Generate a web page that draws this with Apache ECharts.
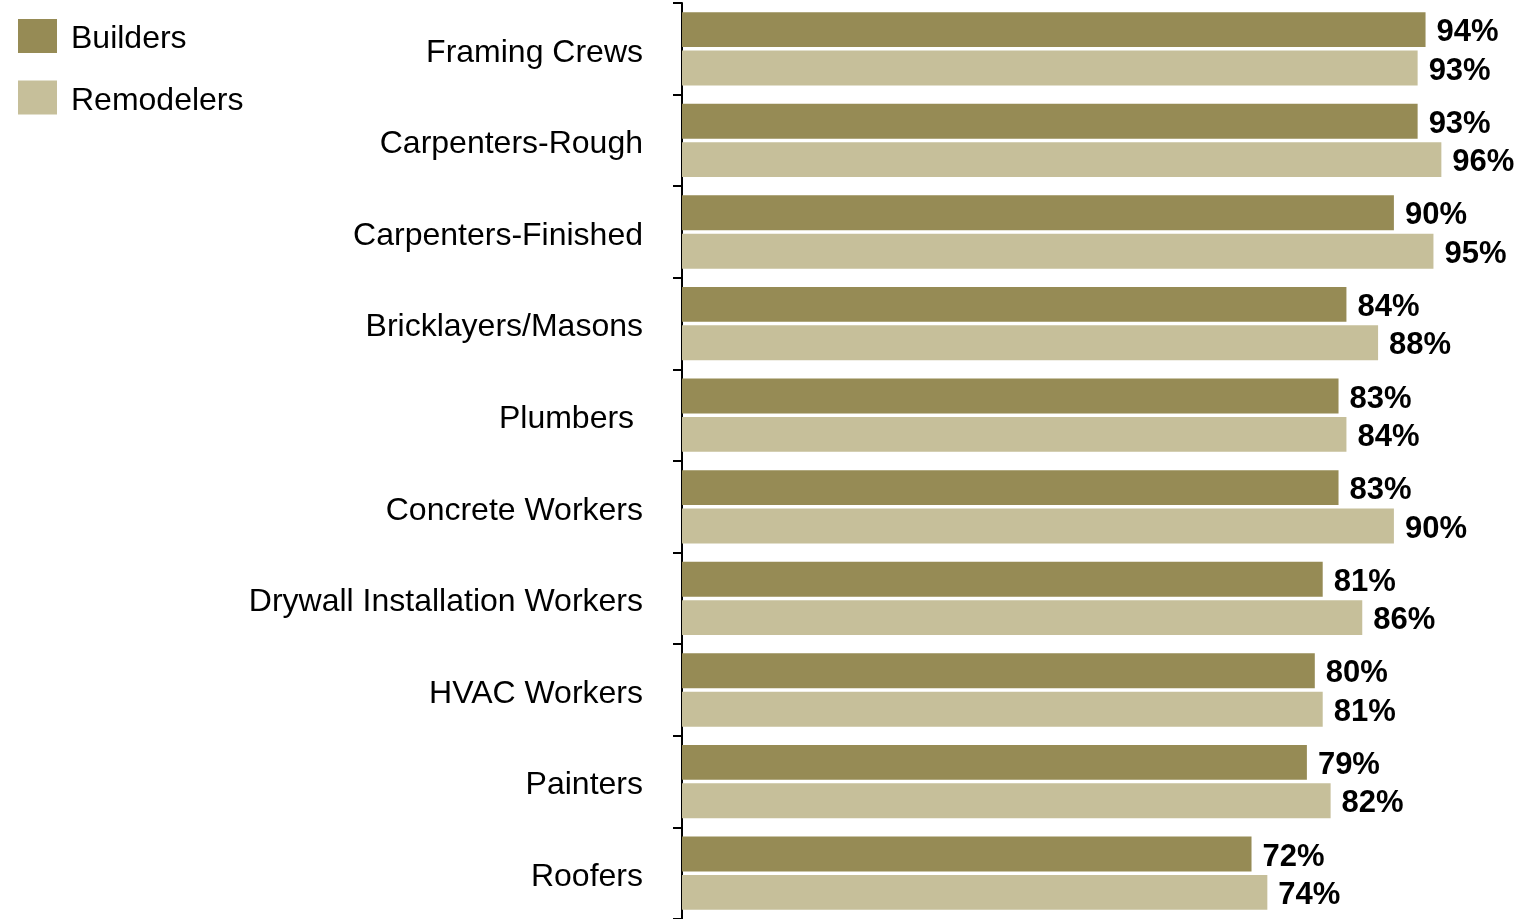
<!DOCTYPE html>
<html>
<head>
<meta charset="utf-8">
<style>
  html, body { margin: 0; padding: 0; background: #fff; }
  #chart { width: 1514px; height: 919px; }
</style>
<script src="https://cdn.jsdelivr.net/npm/echarts@6/dist/echarts.min.js"></script>
</head>
<body>
<div id="chart"></div>
<script>
const trades = ['Framing Crews', 'Carpenters-Rough', 'Carpenters-Finished', 'Bricklayers/Masons',
  'Plumbers ', 'Concrete Workers', 'Drywall Installation Workers', 'HVAC Workers', 'Painters', 'Roofers'];
const builders = [94, 93, 90, 84, 83, 83, 81, 80, 79, 72];
const remodelers = [93, 96, 95, 88, 84, 90, 86, 81, 82, 74];
const colors = ['#968b55', '#c6bf9a'];

const chart = echarts.init(document.getElementById('chart'));

const valueLabel = {
  show: true,
  position: 'right',
  distance: 11,
  offset: [0, 3],
  formatter: '{c}%',
  color: '#000',
  fontFamily: 'Liberation Sans, Arial, sans-serif',
  fontWeight: 'bold',
  fontSize: 31
};

chart.setOption({
  color: colors,
  animation: false,
  textStyle: { fontFamily: 'Liberation Sans, Arial, sans-serif' },
  legend: {
    orient: 'vertical',
    left: 18,
    top: 19,
    padding: 0,
    itemWidth: 39,
    itemHeight: 34,
    itemGap: 25,
    icon: 'rect',
    formatter: '{t|{name}}',
    textStyle: {
      fontSize: 32,
      color: '#000',
      rich: { t: { fontSize: 32, color: '#000', padding: [7, 0, 0, 9] } }
    },
    data: ['Builders', 'Remodelers']
  },
  grid: {
    left: 682,
    top: 3,
    height: 917,
    width: 791
  },
  xAxis: {
    type: 'value',
    min: 0,
    max: 100,
    show: false
  },
  yAxis: {
    type: 'category',
    data: trades,
    inverse: true,
    offset: 3,
    axisLine: { show: true, lineStyle: { color: '#000', width: 2 } },
    axisTick: { show: true, length: 9, alignWithLabel: false, lineStyle: { color: '#000', width: 2 } },
    axisLabel: {
      color: '#000',
      margin: 36,
      formatter: '{t|{value}}',
      rich: { t: { fontSize: 32, color: '#000', padding: [8, 0, 0, 0] } }
    }
  },
  series: [
    {
      name: 'Builders',
      type: 'bar',
      data: builders,
      barCategoryGap: '20%',
      barGap: '10%',
      label: valueLabel
    },
    {
      name: 'Remodelers',
      type: 'bar',
      data: remodelers,
      barCategoryGap: '20%',
      barGap: '10%',
      label: valueLabel
    }
  ]
});
</script>
</body>
</html>
